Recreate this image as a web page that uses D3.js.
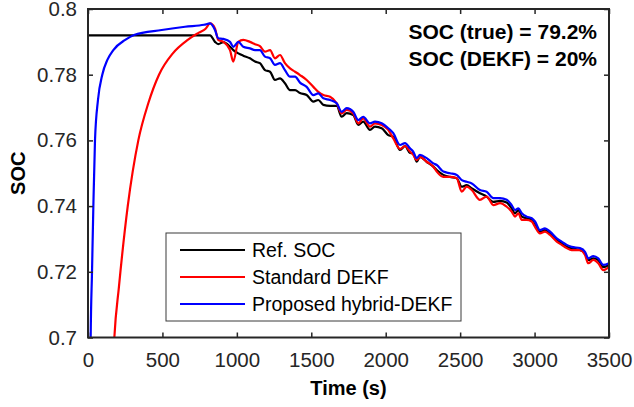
<!DOCTYPE html>
<html>
<head>
<meta charset="utf-8">
<script src="https://cdn.jsdelivr.net/npm/d3@7"></script>
<style>
  body { margin: 0; background: #fff; }
  svg { display: block; font-family: Arial, "Liberation Sans", Helvetica, sans-serif; }
  .tickLabel { font-size: 20.5px; fill: #262626; }
  .axisTitle { font-size: 20px; font-weight: bold; fill: #000; }
  .note { font-size: 21px; font-weight: bold; fill: #000; }
  .legendText { font-size: 19.5px; fill: #000; }
</style>
</head>
<body>
<div id="chart"></div>
<script>
const xTicks = [0, 500, 1000, 1500, 2000, 2500, 3000, 3500]
const yTicks = [0.7, 0.72, 0.74, 0.76, 0.78, 0.8]
const seriesNames = ['Ref. SOC', 'Standard DEKF', 'Proposed hybrid-DEKF']
const seriesColors = ['#000000', '#ff0000', '#0000ff']
const notes = ['SOC (true) = 79.2%', 'SOC (DEKF) = 20%']

// start-up part (before the load profile kicks in)
const refStartTime = [0, 805]
const refStartSoc = [0.792, 0.792]
const stdStartTime = [0, 177, 208, 267, 338, 405, 477, 570, 670, 745, 790]
const stdStartSoc = [0.2, 0.70, 0.7155, 0.74, 0.76, 0.7713, 0.78, 0.7865, 0.7906, 0.7928, 0.7940]
const hybStartTime = [0, 18, 27, 36, 47, 67, 96, 130, 170, 250, 309, 495, 652, 780]
const hybStartSoc = [0.2, 0.70, 0.72, 0.74, 0.76, 0.7723, 0.78, 0.7845, 0.7875, 0.7906, 0.7921, 0.7936, 0.7946, 0.7952]

// discharge part, common time base
const dischargeTime = [
  820, 853, 875, 909, 954, 976, 1010, 1043, 1088, 1122,
  1155, 1189, 1223, 1256, 1290, 1323, 1357, 1391, 1424, 1469,
  1514, 1547, 1581, 1626, 1671, 1704, 1738, 1782, 1816, 1849,
  1894, 1928, 1973, 2017, 2051, 2096, 2130, 2163, 2185, 2208,
  2230, 2275, 2320, 2343, 2387, 2432, 2477, 2511, 2544, 2578,
  2633, 2678, 2723, 2768, 2813, 2846, 2869, 2891, 2914, 2947,
  2981, 3003, 3036, 3070, 3104, 3149, 3182, 3216, 3249, 3305,
  3339, 3361, 3395, 3428, 3462, 3500]
const refSoc = [
  0.7920, 0.7900, 0.7893, 0.7899, 0.7885, 0.7875, 0.7865, 0.7858, 0.7850, 0.7840,
  0.7835, 0.7814, 0.7809, 0.7784, 0.7789, 0.7774, 0.7753, 0.7753, 0.7744, 0.7738,
  0.7718, 0.7723, 0.7708, 0.7705, 0.7705, 0.7672, 0.7683, 0.7677, 0.7647, 0.7657,
  0.7632, 0.7642, 0.7637, 0.7616, 0.7611, 0.7571, 0.7583, 0.7562, 0.7561, 0.7535,
  0.7550, 0.7535, 0.7520, 0.7510, 0.7495, 0.7489, 0.7485, 0.7459, 0.7464, 0.7454,
  0.7439, 0.7429, 0.7413, 0.7416, 0.7411, 0.7393, 0.7378, 0.7388, 0.7368, 0.7363,
  0.7358, 0.7342, 0.7322, 0.7327, 0.7317, 0.7297, 0.7287, 0.7276, 0.7272, 0.7266,
  0.7256, 0.7236, 0.7241, 0.7236, 0.7214, 0.7221]
const stdSoc = [
  0.7956, 0.7941, 0.7906, 0.7900, 0.7875, 0.7840, 0.7900, 0.7906, 0.7900, 0.7893,
  0.7887, 0.7870, 0.7875, 0.7850, 0.7860, 0.7835, 0.7819, 0.7809, 0.7799, 0.7784,
  0.7763, 0.7748, 0.7738, 0.7733, 0.7713, 0.7682, 0.7693, 0.7682, 0.7652, 0.7667,
  0.7642, 0.7652, 0.7647, 0.7632, 0.7606, 0.7574, 0.7583, 0.7566, 0.7556, 0.7540,
  0.7550, 0.7535, 0.7520, 0.7505, 0.7489, 0.7489, 0.7485, 0.7444, 0.7459, 0.7449,
  0.7419, 0.7429, 0.7403, 0.7409, 0.7398, 0.7383, 0.7368, 0.7378, 0.7358, 0.7358,
  0.7353, 0.7337, 0.7317, 0.7322, 0.7312, 0.7292, 0.7282, 0.7272, 0.7266, 0.7266,
  0.7251, 0.7226, 0.7236, 0.7226, 0.7205, 0.7214]
const hybSoc = [
  0.7956, 0.7936, 0.7911, 0.7909, 0.7900, 0.7885, 0.7900, 0.7885, 0.7880, 0.7875,
  0.7875, 0.7855, 0.7850, 0.7830, 0.7835, 0.7814, 0.7794, 0.7794, 0.7776, 0.7763,
  0.7738, 0.7743, 0.7728, 0.7723, 0.7713, 0.7687, 0.7698, 0.7687, 0.7662, 0.7672,
  0.7652, 0.7657, 0.7652, 0.7637, 0.7622, 0.7586, 0.7592, 0.7576, 0.7566, 0.7546,
  0.7556, 0.7546, 0.7530, 0.7525, 0.7505, 0.7500, 0.7495, 0.7479, 0.7474, 0.7469,
  0.7449, 0.7444, 0.7424, 0.7424, 0.7419, 0.7403, 0.7388, 0.7393, 0.7378, 0.7368,
  0.7363, 0.7353, 0.7327, 0.7332, 0.7322, 0.7302, 0.7292, 0.7282, 0.7276, 0.7272,
  0.7261, 0.7241, 0.7248, 0.7241, 0.7221, 0.7226]

const width = 634
const height = 407
const margin = { left: 88, right: 25, top: 9, bottom: 69.5 }
const innerW = width - margin.left - margin.right
const innerH = height - margin.top - margin.bottom
const axisColor = '#262626'
const tickLen = 5

const toPoints = (ts, vs) => ts.map((t, i) => ({ t: t, v: vs[i] }))
const series = [
  toPoints(refStartTime, refStartSoc).concat(toPoints(dischargeTime, refSoc)),
  toPoints(stdStartTime, stdStartSoc).concat(toPoints(dischargeTime, stdSoc)),
  toPoints(hybStartTime, hybStartSoc).concat(toPoints(dischargeTime, hybSoc))
]

const x = d3.scaleLinear().domain([0, 3500]).range([0, innerW])
const y = d3.scaleLinear().domain([0.7, 0.8]).range([innerH, 0])

let svg = d3.select('#chart').append('svg')
    .attr('width', width)
    .attr('height', height)

let g = svg.append('g')
    .attr('transform', 'translate(' + margin.left + ',' + margin.top + ')')

g.append('clipPath').attr('id', 'plotClip')
    .append('rect')
    .attr('width', innerW)
    .attr('height', innerH)

//draw the three curves
const line = d3.line()
    .x(d => x(d.t))
    .y(d => y(d.v))
    .curve(d3.curveMonotoneX)

g.append('g').attr('clip-path', 'url(#plotClip)')
    .selectAll('.socLine')
    .data(series)
    .enter().append('path')
    .attr('class', 'socLine')
    .attr('d', line)
    .attr('fill', 'none')
    .attr('stroke', (d, i) => seriesColors[i])
    .attr('stroke-width', 2.2)
    .attr('stroke-linejoin', 'round')

//axes: bottom/left with labels, top/right as mirrored ticks only
const xAxis = d3.axisBottom(x).tickValues(xTicks).tickSizeInner(-tickLen).tickSizeOuter(0).tickPadding(15)
    .tickFormat(d => String(d))
const yAxis = d3.axisLeft(y).tickValues(yTicks).tickSizeInner(-tickLen).tickSizeOuter(0).tickPadding(11)
    .tickFormat(d => String(+d.toFixed(2)))
const xTop = d3.axisTop(x).tickValues(xTicks).tickSizeInner(-tickLen).tickSizeOuter(0).tickFormat('')
const yRight = d3.axisRight(y).tickValues(yTicks).tickSizeInner(-tickLen).tickSizeOuter(0).tickFormat('')

const axes = [
    [xAxis, 'translate(0,' + innerH + ')'],
    [yAxis, null],
    [xTop, null],
    [yRight, 'translate(' + innerW + ',0)']
]
axes.forEach(a => {
    let ax = g.append('g').call(a[0])
    if (a[1]) ax.attr('transform', a[1])
    ax.select('.domain').remove()
    ax.selectAll('line').attr('stroke', axisColor).attr('stroke-width', 1.5)
    ax.selectAll('text').attr('class', 'tickLabel').attr('font-family', null).attr('font-size', null)
})

//box around plot area
g.append('rect')
    .attr('width', innerW)
    .attr('height', innerH)
    .attr('fill', 'none')
    .attr('stroke', axisColor)
    .attr('stroke-width', 2)

//axis titles
svg.append('text')
    .attr('class', 'axisTitle')
    .attr('x', margin.left + innerW / 2)
    .attr('y', 395)
    .attr('text-anchor', 'middle')
    .text('Time (s)')

svg.append('text')
    .attr('class', 'axisTitle')
    .attr('transform', 'translate(25,' + (margin.top + innerH / 2) + ') rotate(-90)')
    .attr('text-anchor', 'middle')
    .text('SOC')

//annotation in the top right corner
svg.selectAll('.note')
    .data(notes)
    .enter().append('text')
    .attr('class', 'note')
    .attr('x', 597)
    .attr('y', (d, i) => 39 + i * 27)
    .attr('text-anchor', 'end')
    .text(d => d)

//legend
let legend = svg.append('g').attr('transform', 'translate(166,233)')
legend.append('rect')
    .attr('width', 295)
    .attr('height', 88)
    .attr('fill', '#fff')
    .attr('stroke', '#3a3a3a')
    .attr('stroke-width', 1)

let rows = legend.selectAll('.legendRow')
    .data(seriesNames)
    .enter().append('g')
    .attr('class', 'legendRow')
    .attr('transform', (d, i) => 'translate(0,' + (17 + i * 27) + ')')
rows.append('line')
    .attr('x1', 14)
    .attr('x2', 79)
    .attr('stroke', (d, i) => seriesColors[i])
    .attr('stroke-width', 2.2)
rows.append('text')
    .attr('class', 'legendText')
    .attr('x', 86)
    .attr('dy', '0.35em')
    .text(d => d)
</script>
</body>
</html>
